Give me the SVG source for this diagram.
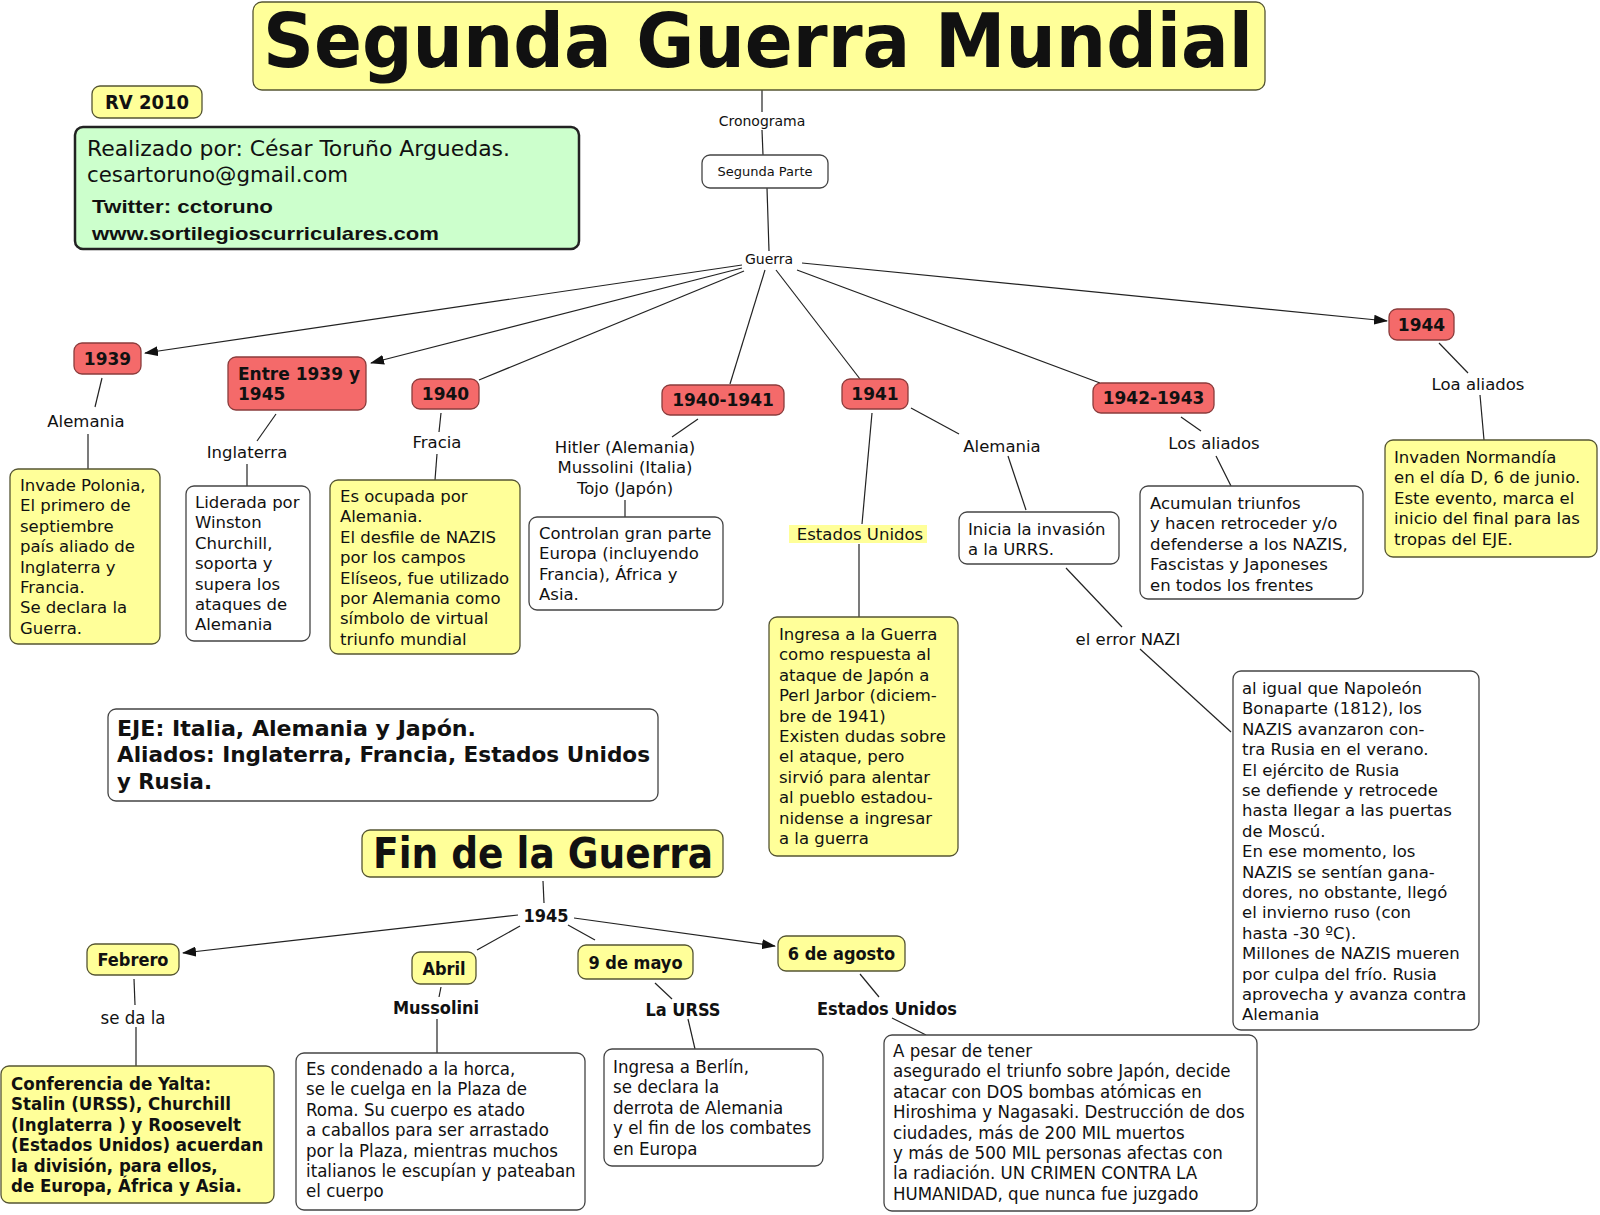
<svg xmlns="http://www.w3.org/2000/svg" width="1600" height="1215" viewBox="0 0 1600 1215">
<style>
.y{fill:#ffff99;stroke:#555533;stroke-width:1.3}
.w{fill:#fff;stroke:#444;stroke-width:1.3}
.r{fill:#f46a6a;stroke:#8a3c3c;stroke-width:1.3}
.g{fill:#ccffcc;stroke:#222;stroke-width:2.5}
.ln{stroke:#222;stroke-width:1.2;fill:none}
.ar{stroke:#222;stroke-width:1.2;fill:none;marker-end:url(#ah)}
text{fill:#111}
.v{font-family:"DejaVu Sans",Verdana,sans-serif;font-size:16.5px}
.vb{font-family:"DejaVu Sans",Verdana,sans-serif;font-size:17px;font-weight:bold}
.c{font-family:"DejaVu Sans Condensed","DejaVu Sans",sans-serif;font-stretch:condensed;font-size:18.5px}
.cb{font-family:"DejaVu Sans Condensed","DejaVu Sans",sans-serif;font-stretch:condensed;font-weight:bold;font-size:18px}
.m{text-anchor:middle;dominant-baseline:central}
</style>
<defs>
<marker id="ah" markerWidth="14" markerHeight="10" refX="13" refY="5" orient="auto" markerUnits="userSpaceOnUse">
<path d="M0,0 L14,5 L0,10 Z" fill="#111"/>
</marker>
</defs>
<rect width="1600" height="1215" fill="#fff"/>

<g id="connectors">
<line class="ln" x1="762" y1="90" x2="762" y2="112"/>
<line class="ln" x1="762" y1="130" x2="763" y2="155"/>
<line class="ln" x1="767" y1="188" x2="769" y2="251"/>
<line class="ar" x1="742" y1="265" x2="145" y2="353"/>
<line class="ar" x1="742" y1="268" x2="371" y2="363"/>
<line class="ln" x1="744" y1="271" x2="479" y2="380"/>
<line class="ln" x1="765" y1="270" x2="730" y2="384"/>
<line class="ln" x1="776" y1="270" x2="860" y2="379"/>
<line class="ln" x1="797" y1="270" x2="1100" y2="383"/>
<line class="ar" x1="802" y1="263" x2="1387" y2="321"/>
<line class="ln" x1="102" y1="378" x2="95" y2="407"/>
<line class="ln" x1="88" y1="434" x2="88" y2="469"/>
<line class="ln" x1="276" y1="414" x2="257" y2="441"/>
<line class="ln" x1="247" y1="464" x2="247" y2="486"/>
<line class="ln" x1="441" y1="413" x2="439" y2="432"/>
<line class="ln" x1="437" y1="454" x2="435" y2="480"/>
<line class="ln" x1="698" y1="419" x2="672" y2="437"/>
<line class="ln" x1="625" y1="500" x2="625" y2="517"/>
<line class="ln" x1="872" y1="413" x2="862" y2="524"/>
<line class="ln" x1="859" y1="544" x2="859" y2="617"/>
<line class="ln" x1="911" y1="408" x2="959" y2="434"/>
<line class="ln" x1="1008" y1="456" x2="1026" y2="510"/>
<line class="ln" x1="1066" y1="568" x2="1122" y2="627"/>
<line class="ln" x1="1140" y1="649" x2="1231" y2="732"/>
<line class="ln" x1="1181" y1="417" x2="1201" y2="431"/>
<line class="ln" x1="1216" y1="456" x2="1231" y2="486"/>
<line class="ln" x1="1439" y1="343" x2="1468" y2="373"/>
<line class="ln" x1="1480" y1="395" x2="1484" y2="440"/>
<line class="ln" x1="543" y1="881" x2="544" y2="903"/>
<line class="ar" x1="518" y1="915" x2="183" y2="953"/>
<line class="ln" x1="520" y1="926" x2="477" y2="950"/>
<line class="ln" x1="568" y1="925" x2="595" y2="940"/>
<line class="ar" x1="574" y1="918" x2="775" y2="946"/>
<line class="ln" x1="134" y1="979" x2="135" y2="1005"/>
<line class="ln" x1="136" y1="1027" x2="136" y2="1066"/>
<line class="ln" x1="441" y1="987" x2="439" y2="997"/>
<line class="ln" x1="437" y1="1019" x2="437" y2="1053"/>
<line class="ln" x1="655" y1="983" x2="672" y2="999"/>
<line class="ln" x1="688" y1="1019" x2="695" y2="1049"/>
<line class="ln" x1="860" y1="974" x2="879" y2="997"/>
<line class="ln" x1="892" y1="1018" x2="926" y2="1035"/>
</g>

<g id="title">
<rect class="y" x="253" y="2" width="1012" height="88" rx="9"/>
<text x="263" y="67" font-family="'DejaVu Sans Condensed','DejaVu Sans',sans-serif" font-stretch="condensed" font-weight="bold" font-size="74" textLength="990" lengthAdjust="spacingAndGlyphs">Segunda Guerra Mundial</text>
</g>
<g id="lbl-cronograma"><text class="v m" x="762" y="121" style="font-size:14px">Cronograma</text></g>
<g id="segunda-parte">
<rect class="w" x="702" y="155" width="126" height="33" rx="8"/>
<text class="v m" x="765" y="171.5" style="font-size:13px">Segunda Parte</text>
</g>
<g id="lbl-guerra"><text class="v m" x="769" y="259" style="font-size:14px">Guerra</text></g>

<g id="rv2010">
<rect class="y" x="92" y="86" width="110" height="32" rx="8"/>
<text class="cb m" x="147" y="102" style="font-size:20px">RV 2010</text>
</g>
<g id="autor">
<rect class="g" x="75" y="127" width="504" height="122" rx="8"/>
<text class="c" x="87" y="156" style="font-size:22px" textLength="423" lengthAdjust="spacingAndGlyphs">Realizado por: César Toruño Arguedas.</text>
<text class="c" x="87" y="182" style="font-size:22px" textLength="261" lengthAdjust="spacingAndGlyphs">cesartoruno@gmail.com</text>
<text x="92" y="213" font-family="'Liberation Sans',Arial,sans-serif" font-weight="bold" font-size="19" textLength="181" lengthAdjust="spacingAndGlyphs">Twitter: cctoruno</text>
<text x="92" y="240" font-family="'Liberation Sans',Arial,sans-serif" font-weight="bold" font-size="19" textLength="347" lengthAdjust="spacingAndGlyphs">www.sortilegioscurriculares.com</text>
</g>

<g id="y1939"><rect class="r" x="74" y="343" width="67" height="31" rx="8"/><text class="vb m" x="107.5" y="358.5">1939</text></g>
<g id="entre"><rect class="r" x="228" y="357" width="138" height="53" rx="8"/>
<text class="vb" x="238" y="380">Entre 1939 y</text><text class="vb" x="238" y="400">1945</text></g>
<g id="y1940"><rect class="r" x="412" y="379" width="67" height="30" rx="8"/><text class="vb m" x="445.5" y="394">1940</text></g>
<g id="y1940-1941"><rect class="r" x="662" y="385" width="122" height="30" rx="8"/><text class="vb m" x="723" y="400">1940-1941</text></g>
<g id="y1941"><rect class="r" x="842" y="379" width="66" height="30" rx="8"/><text class="vb m" x="875" y="394">1941</text></g>
<g id="y1942-1943"><rect class="r" x="1093" y="383" width="121" height="30" rx="8"/><text class="vb m" x="1153.5" y="398">1942-1943</text></g>
<g id="y1944"><rect class="r" x="1389" y="309" width="65" height="31" rx="8"/><text class="vb m" x="1421.5" y="324.5">1944</text></g>

<g id="lbl-alemania1"><text class="v m" x="86" y="421">Alemania</text></g>
<g id="lbl-inglaterra"><text class="v m" x="247" y="452">Inglaterra</text></g>
<g id="lbl-fracia"><text class="v m" x="437" y="442">Fracia</text></g>
<g id="lbl-lideres"><text class="v" text-anchor="middle"><tspan x="625" y="453">Hitler (Alemania)</tspan><tspan x="625" y="473">Mussolini (Italia)</tspan><tspan x="625" y="494">Tojo (Japón)</tspan></text></g>
<g id="lbl-eeuu1"><rect x="789" y="525" width="138" height="18" fill="#ffff99"/><text class="v m" x="860" y="534">Estados Unidos</text></g>
<g id="lbl-alemania2"><text class="v m" x="1002" y="446">Alemania</text></g>
<g id="lbl-error"><text class="v m" x="1128" y="639">el error NAZI</text></g>
<g id="lbl-losaliados"><text class="v m" x="1214" y="443">Los aliados</text></g>
<g id="lbl-loaaliados"><text class="v m" x="1478" y="384">Loa aliados</text></g>

<g id="polonia"><rect class="y" x="10" y="469" width="150" height="175" rx="8"/>
<text class="v"><tspan x="20" y="491">Invade Polonia,</tspan><tspan x="20" dy="20.4">El primero de</tspan><tspan x="20" dy="20.4">septiembre</tspan><tspan x="20" dy="20.4">país aliado de</tspan><tspan x="20" dy="20.4">Inglaterra y</tspan><tspan x="20" dy="20.4">Francia.</tspan><tspan x="20" dy="20.4">Se declara la</tspan><tspan x="20" dy="20.4">Guerra.</tspan></text></g>
<g id="churchill"><rect class="w" x="186" y="486" width="124" height="155" rx="8"/>
<text class="v"><tspan x="195" y="508">Liderada por</tspan><tspan x="195" dy="20.4">Winston</tspan><tspan x="195" dy="20.4">Churchill,</tspan><tspan x="195" dy="20.4">soporta y</tspan><tspan x="195" dy="20.4">supera los</tspan><tspan x="195" dy="20.4">ataques de</tspan><tspan x="195" dy="20.4">Alemania</tspan></text></g>
<g id="francia"><rect class="y" x="330" y="480" width="190" height="174" rx="8"/>
<text class="v"><tspan x="340" y="502">Es ocupada por</tspan><tspan x="340" dy="20.4">Alemania.</tspan><tspan x="340" dy="20.4">El desfile de NAZIS</tspan><tspan x="340" dy="20.4">por los campos</tspan><tspan x="340" dy="20.4">Elíseos, fue utilizado</tspan><tspan x="340" dy="20.4">por Alemania como</tspan><tspan x="340" dy="20.4">símbolo de virtual</tspan><tspan x="340" dy="20.4">triunfo mundial</tspan></text></g>
<g id="controlan"><rect class="w" x="529" y="517" width="194" height="93" rx="8"/>
<text class="v"><tspan x="539" y="539">Controlan gran parte</tspan><tspan x="539" dy="20.4">Europa (incluyendo</tspan><tspan x="539" dy="20.4">Francia), África y</tspan><tspan x="539" dy="20.4">Asia.</tspan></text></g>
<g id="pearl"><rect class="y" x="769" y="617" width="189" height="239" rx="8"/>
<text class="v"><tspan x="779" y="640">Ingresa a la Guerra</tspan><tspan x="779" dy="20.4">como respuesta al</tspan><tspan x="779" dy="20.4">ataque de Japón a</tspan><tspan x="779" dy="20.4">Perl Jarbor (diciem-</tspan><tspan x="779" dy="20.4">bre de 1941)</tspan><tspan x="779" dy="20.4">Existen dudas sobre</tspan><tspan x="779" dy="20.4">el ataque, pero</tspan><tspan x="779" dy="20.4">sirvió para alentar</tspan><tspan x="779" dy="20.4">al pueblo estadou-</tspan><tspan x="779" dy="20.4">nidense a ingresar</tspan><tspan x="779" dy="20.4">a la guerra</tspan></text></g>
<g id="invasion"><rect class="w" x="959" y="512" width="160" height="52" rx="8"/>
<text class="v"><tspan x="968" y="535">Inicia la invasión</tspan><tspan x="968" dy="20.4">a la URRS.</tspan></text></g>
<g id="napoleon"><rect class="w" x="1233" y="671" width="246" height="359" rx="8"/>
<text class="v"><tspan x="1242" y="694">al igual que Napoleón</tspan><tspan x="1242" dy="20.4">Bonaparte (1812), los</tspan><tspan x="1242" dy="20.4">NAZIS avanzaron con-</tspan><tspan x="1242" dy="20.4">tra Rusia en el verano.</tspan><tspan x="1242" dy="20.4">El ejército de Rusia</tspan><tspan x="1242" dy="20.4">se defiende y retrocede</tspan><tspan x="1242" dy="20.4">hasta llegar a las puertas</tspan><tspan x="1242" dy="20.4">de Moscú.</tspan><tspan x="1242" dy="20.4">En ese momento, los</tspan><tspan x="1242" dy="20.4">NAZIS se sentían gana-</tspan><tspan x="1242" dy="20.4">dores, no obstante, llegó</tspan><tspan x="1242" dy="20.4">el invierno ruso (con</tspan><tspan x="1242" dy="20.4">hasta -30 ºC).</tspan><tspan x="1242" dy="20.4">Millones de NAZIS mueren</tspan><tspan x="1242" dy="20.4">por culpa del frío. Rusia</tspan><tspan x="1242" dy="20.4">aprovecha y avanza contra</tspan><tspan x="1242" dy="20.4">Alemania</tspan></text></g>
<g id="acumulan"><rect class="w" x="1140" y="486" width="223" height="113" rx="8"/>
<text class="v"><tspan x="1150" y="509">Acumulan triunfos</tspan><tspan x="1150" dy="20.4">y hacen retroceder y/o</tspan><tspan x="1150" dy="20.4">defenderse a los NAZIS,</tspan><tspan x="1150" dy="20.4">Fascistas y Japoneses</tspan><tspan x="1150" dy="20.4">en todos los frentes</tspan></text></g>
<g id="normandia"><rect class="y" x="1385" y="440" width="212" height="117" rx="8"/>
<text class="v"><tspan x="1394" y="463">Invaden Normandía</tspan><tspan x="1394" dy="20.4">en el día D, 6 de junio.</tspan><tspan x="1394" dy="20.4">Este evento, marca el</tspan><tspan x="1394" dy="20.4">inicio del final para las</tspan><tspan x="1394" dy="20.4">tropas del EJE.</tspan></text></g>

<g id="eje"><rect class="w" x="108" y="709" width="550" height="92" rx="8"/>
<text class="cb" style="font-size:22px"><tspan x="117" y="736" textLength="359" lengthAdjust="spacingAndGlyphs">EJE: Italia, Alemania y Japón.</tspan><tspan x="117" y="762" textLength="533" lengthAdjust="spacingAndGlyphs">Aliados: Inglaterra, Francia, Estados Unidos</tspan><tspan x="117" y="789" textLength="95" lengthAdjust="spacingAndGlyphs">y Rusia.</tspan></text></g>

<g id="fin"><rect class="y" x="362" y="830" width="361" height="47" rx="8"/>
<text x="373" y="868" font-family="'DejaVu Sans Condensed','DejaVu Sans',sans-serif" font-stretch="condensed" font-weight="bold" font-size="43" textLength="340" lengthAdjust="spacingAndGlyphs">Fin de la Guerra</text></g>
<g id="lbl-1945"><text class="cb m" x="546" y="915">1945</text></g>
<g id="febrero"><rect class="y" x="87" y="944" width="92" height="31" rx="8"/><text class="cb m" x="133" y="959.5">Febrero</text></g>
<g id="abril"><rect class="y" x="412" y="952" width="64" height="32" rx="8"/><text class="cb m" x="444" y="968">Abril</text></g>
<g id="mayo"><rect class="y" x="578" y="945" width="115" height="34" rx="8"/><text class="cb m" x="635.5" y="962">9 de mayo</text></g>
<g id="agosto"><rect class="y" x="778" y="936" width="127" height="35" rx="8"/><text class="cb m" x="841.5" y="953.5">6 de agosto</text></g>
<g id="lbl-seda"><text class="c m" x="133" y="1017">se da la</text></g>
<g id="lbl-mussolini"><text class="cb m" x="436" y="1007">Mussolini</text></g>
<g id="lbl-urss"><text class="cb m" x="683" y="1009">La URSS</text></g>
<g id="lbl-eeuu2"><text class="cb m" x="887" y="1008">Estados Unidos</text></g>

<g id="yalta"><rect class="y" x="1" y="1066" width="273" height="137" rx="8"/>
<text class="cb" style="font-size:18.5px"><tspan x="11" y="1090">Conferencia de Yalta:</tspan><tspan x="11" dy="20.4">Stalin (URSS), Churchill</tspan><tspan x="11" dy="20.4">(Inglaterra ) y Roosevelt</tspan><tspan x="11" dy="20.4">(Estados Unidos) acuerdan</tspan><tspan x="11" dy="20.4">la división, para ellos,</tspan><tspan x="11" dy="20.4">de Europa, África y Asia.</tspan></text></g>
<g id="horca"><rect class="w" x="296" y="1053" width="289" height="157" rx="8"/>
<text class="c"><tspan x="306" y="1075">Es condenado a la horca,</tspan><tspan x="306" dy="20.4">se le cuelga en la Plaza de</tspan><tspan x="306" dy="20.4">Roma. Su cuerpo es atado</tspan><tspan x="306" dy="20.4">a caballos para ser arrastado</tspan><tspan x="306" dy="20.4">por la Plaza, mientras muchos</tspan><tspan x="306" dy="20.4">italianos le escupían y pateaban</tspan><tspan x="306" dy="20.4">el cuerpo</tspan></text></g>
<g id="berlin"><rect class="w" x="604" y="1049" width="219" height="117" rx="8"/>
<text class="c"><tspan x="613" y="1073">Ingresa a Berlín,</tspan><tspan x="613" dy="20.4">se declara la</tspan><tspan x="613" dy="20.4">derrota de Alemania</tspan><tspan x="613" dy="20.4">y el fin de los combates</tspan><tspan x="613" dy="20.4">en Europa</tspan></text></g>
<g id="hiroshima"><rect class="w" x="884" y="1035" width="373" height="176" rx="8"/>
<text class="c"><tspan x="893" y="1057">A pesar de tener</tspan><tspan x="893" dy="20.4">asegurado el triunfo sobre Japón, decide</tspan><tspan x="893" dy="20.4">atacar con DOS bombas atómicas en</tspan><tspan x="893" dy="20.4">Hiroshima y Nagasaki. Destrucción de dos</tspan><tspan x="893" dy="20.4">ciudades, más de 200 MIL muertos</tspan><tspan x="893" dy="20.4">y más de 500 MIL personas afectas con</tspan><tspan x="893" dy="20.4">la radiación. UN CRIMEN CONTRA LA</tspan><tspan x="893" dy="20.4">HUMANIDAD, que nunca fue juzgado</tspan></text></g>
</svg>
